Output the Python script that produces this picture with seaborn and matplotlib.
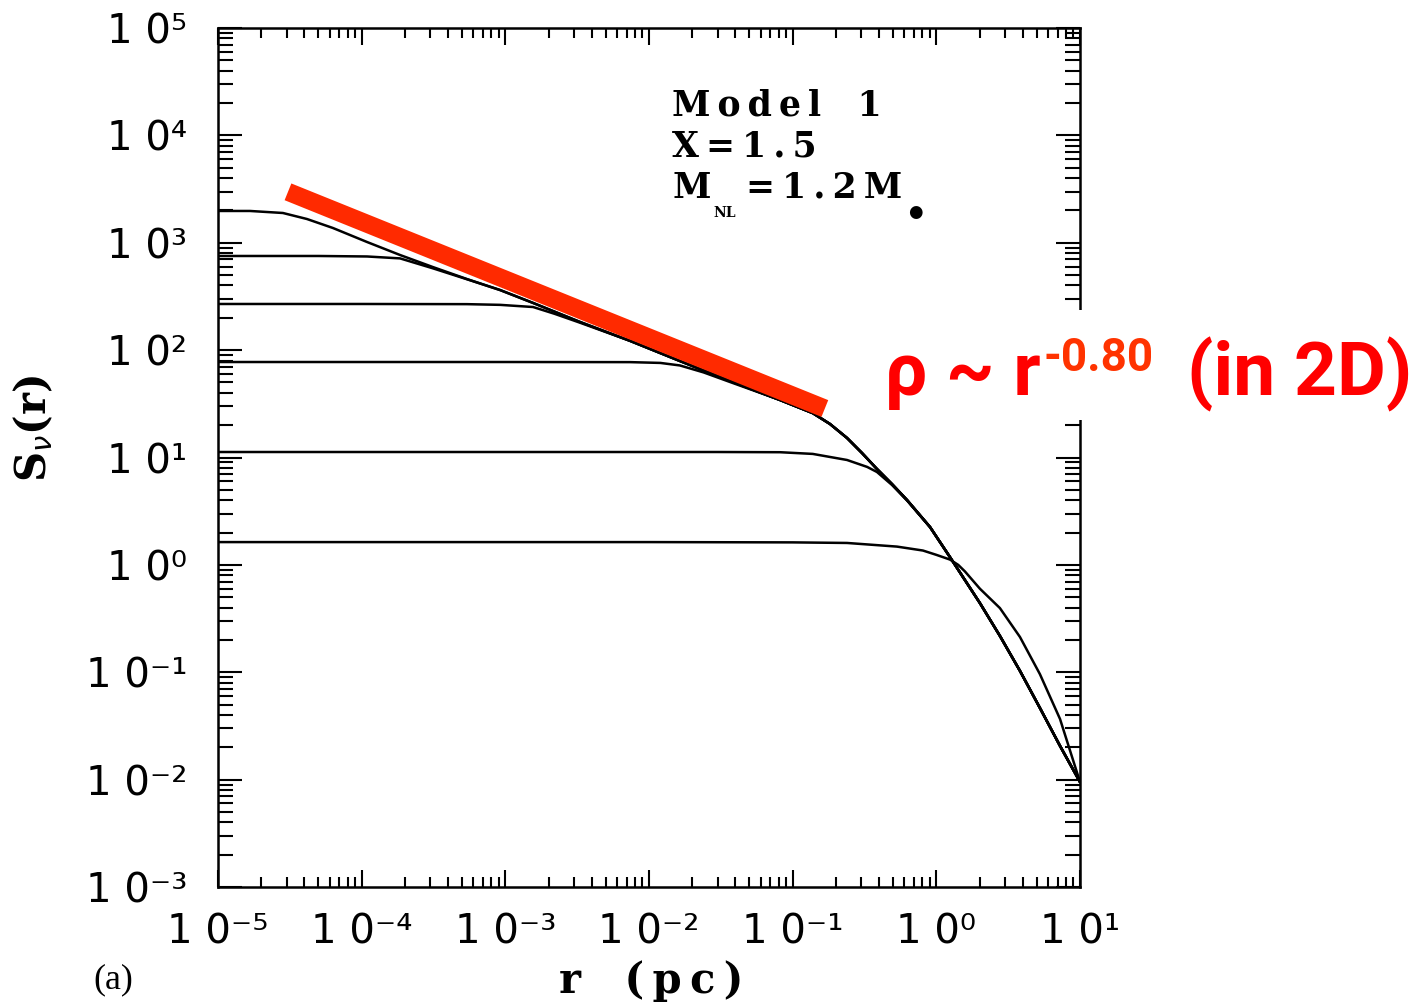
import numpy as np
import pandas as pd
import matplotlib
matplotlib.use("Agg")
import matplotlib.pyplot as plt
import seaborn as sns
from matplotlib.ticker import LogLocator, NullFormatter
from matplotlib.patches import Rectangle

sns.set_style("ticks")
plt.rcParams["font.family"] = ["DejaVu Sans"]
plt.rcParams["text.color"] = "black"

# ---------------- data ----------------
curve_a_r = [1.00e-5, 1.67e-5, 2.83e-5, 4.16e-5, 6.31e-5, 1.09e-4, 1.85e-4, 3.13e-4,
             5.41e-4, 9.18e-4, 1.56e-3, 3.31e-3, 7.38e-3, 1.64e-2, 3.66e-2, 8.17e-2,
             0.138, 0.182, 0.239, 0.304, 0.386, 0.491, 0.625, 0.904, 1.245, 1.58,
             2.01, 2.77, 3.82, 5.26, 7.26, 10.0]
curve_a_s = [1977, 1977, 1893, 1664, 1372, 1016, 769, 594,
             459, 363, 275, 183, 122, 79.2, 51.6, 34.3,
             25.9, 20.5, 15.2, 11.0, 7.82, 5.66, 4.02, 2.25, 1.18, 0.723,
             0.441, 0.218, 0.103, 0.0465, 0.0206, 0.0095]

curve_b_r = [1.00e-5, 5.0e-5, 1.09e-4, 1.85e-4, 3.13e-4, 5.41e-4, 9.18e-4, 1.56e-3,
             3.31e-3, 7.38e-3, 1.64e-2, 3.66e-2, 8.17e-2, 0.138, 0.182, 0.239, 0.304,
             0.386, 0.491, 0.625, 0.904, 1.245, 1.58, 2.01, 2.77, 3.82, 5.26, 7.26, 10.0]
curve_b_s = [753, 753, 745, 715, 578, 457, 363, 275,
             183, 122, 79.2, 51.6, 34.3, 25.9, 20.5, 15.2, 11.0,
             7.82, 5.66, 4.02, 2.25, 1.18, 0.723, 0.441, 0.218, 0.103, 0.0465, 0.0206, 0.0095]

curve_c_r = [1.00e-5, 1.0e-4, 5.4e-4, 9.2e-4, 1.56e-3, 2.2e-3, 3.31e-3, 7.38e-3,
             1.64e-2, 3.66e-2, 8.17e-2, 0.138, 0.182, 0.239, 0.304, 0.386, 0.491,
             0.625, 0.904, 1.245, 1.58, 2.01, 2.77, 3.82, 5.26, 7.26, 10.0]
curve_c_s = [269, 269, 268, 264, 252, 218, 180, 122,
             79.2, 51.6, 34.3, 25.9, 20.5, 15.2, 11.0, 7.82, 5.66,
             4.02, 2.25, 1.18, 0.723, 0.441, 0.218, 0.103, 0.0465, 0.0206, 0.0095]

curve_d_r = [1.00e-5, 1.0e-3, 7.4e-3, 1.2e-2, 1.64e-2, 2.4e-2, 3.66e-2, 8.17e-2,
             0.138, 0.182, 0.239, 0.304, 0.386, 0.491, 0.625, 0.904, 1.245, 1.58,
             2.01, 2.77, 3.82, 5.26, 7.26, 10.0]
curve_d_s = [77.5, 77.5, 77.3, 76.0, 72.0, 62.0, 50.5, 34.3,
             25.9, 20.5, 15.2, 11.0, 7.82, 5.66, 4.02, 2.25, 1.18, 0.723,
             0.441, 0.218, 0.103, 0.0465, 0.0206, 0.0095]

curve_e_r = [1.00e-5, 1.0e-3, 3.0e-2, 8.17e-2, 0.138, 0.239, 0.33, 0.386, 0.491,
             0.625, 0.904, 1.245, 1.58, 2.01, 2.77, 3.82, 5.26, 7.26, 10.0]
curve_e_s = [11.25, 11.25, 11.25, 11.2, 10.8, 9.48, 8.17, 7.33, 5.55,
             3.98, 2.25, 1.18, 0.723, 0.441, 0.218, 0.103, 0.0465, 0.0206, 0.0095]

curve_f_r = [1.00e-5, 1.0e-3, 1.0e-2, 0.1, 0.239, 0.532, 0.807, 1.0, 1.245, 1.42, 1.58,
             2.01, 2.77, 3.82, 5.26, 7.26, 10.0]
curve_f_s = [1.63, 1.63, 1.63, 1.62, 1.60, 1.48, 1.36, 1.24, 1.12, 1.0, 0.87,
             0.60, 0.396, 0.213, 0.096, 0.0367, 0.0095]

fit_r = [3.07e-5, 0.1675]
fit_s = [2980, 28.6]

x_ticks = [1e-5, 1e-4, 1e-3, 1e-2, 1e-1, 1e0, 1e1]
x_tick_labels = ["1 0\u207b\u2075", "1 0\u207b\u2074", "1 0\u207b\u00b3",
                 "1 0\u207b\u00b2", "1 0\u207b\u00b9", "1 0\u2070", "1 0\u00b9"]
y_ticks = [1e-3, 1e-2, 1e-1, 1e0, 1e1, 1e2, 1e3, 1e4, 1e5]
y_tick_labels = ["1 0\u207b\u00b3", "1 0\u207b\u00b2", "1 0\u207b\u00b9",
                 "1 0\u2070", "1 0\u00b9", "1 0\u00b2", "1 0\u00b3",
                 "1 0\u2074", "1 0\u2075"]

# ---------------- build table ----------------
curves = [("A", curve_a_r, curve_a_s), ("B", curve_b_r, curve_b_s),
          ("C", curve_c_r, curve_c_s), ("D", curve_d_r, curve_d_s),
          ("E", curve_e_r, curve_e_s), ("F", curve_f_r, curve_f_s)]
df = pd.concat([pd.DataFrame({"r": r, "S": s, "curve": n}) for n, r, s in curves],
               ignore_index=True)

W, H = 1422, 1006
fig = plt.figure(figsize=(W / 100, H / 100), dpi=100)
ax = fig.add_axes([218 / W, 1 - 887 / H, (1080 - 218) / W, (887 - 28) / H])
ax.set_xscale("log")
ax.set_yscale("log")

sns.lineplot(data=df, x="r", y="S", units="curve", estimator=None, sort=False,
             color="black", lw=1.8, ax=ax, legend=False)
ax.plot(fit_r, fit_s, color="#ff2a00", lw=13, solid_capstyle="butt", zorder=3)

ax.set_xlim(1e-5, 1e1)
ax.set_ylim(1e-3, 1e5)
ax.set_xticks(x_ticks, x_tick_labels)
ax.set_yticks(y_ticks, y_tick_labels)
ax.xaxis.set_minor_locator(LogLocator(base=10, subs=np.arange(2, 10), numticks=100))
ax.yaxis.set_minor_locator(LogLocator(base=10, subs=np.arange(2, 10), numticks=100))
ax.xaxis.set_minor_formatter(NullFormatter())
ax.yaxis.set_minor_formatter(NullFormatter())
ax.set_xlabel("")
ax.set_ylabel("")

ax.tick_params(which="both", direction="in", top=True, right=True, width=1.5,
               color="black", labelcolor="black")
ax.tick_params(axis="y", which="major", length=17, pad=22, labelsize=29)
ax.tick_params(axis="y", which="minor", length=11)
ax.tick_params(axis="x", which="major", length=12, pad=18, labelsize=29)
ax.tick_params(axis="x", which="minor", length=7)
for sp in ax.spines.values():
    sp.set_linewidth(1.8)
    sp.set_color("black")

serif = "DejaVu Serif"
ts = "\u2009"  # thin space used as letter spacing
def spaced(s):
    return ts.join(list(s))

# axis labels
fig.text(651 / W, 1 - 993 / H, spaced("r") + "   " + spaced("(pc)"), ha="center",
         va="baseline", fontsize=30, fontweight="bold", family=serif)
fig.text(33 / W, 1 - 428 / H, r"S$_{\nu}$(r)", ha="center", va="center", rotation=90,
         fontsize=30, fontweight="bold", family=serif)
fig.text(93 / W, 1 - 988 / H, "(a)", ha="left", va="baseline", fontsize=26,
         family="Liberation Serif")

# model annotation
fs = 25
fig.text(672 / W, 1 - 115 / H, spaced("Model") + "   " + "1", ha="left", va="baseline",
         fontsize=fs, fontweight="bold", family=serif)
fig.text(672 / W, 1 - 157 / H, spaced("X=1.5"), ha="left", va="baseline", fontsize=fs,
         fontweight="bold", family=serif)
fig.text(672 / W, 1 - 198 / H, "M", ha="left", va="baseline", fontsize=fs,
         fontweight="bold", family=serif)
fig.text(713 / W, 1 - 217 / H, "NL", ha="left", va="baseline", fontsize=10,
         fontweight="bold", family=serif)
fig.text(746 / W, 1 - 198 / H, spaced("=1.2M"), ha="left", va="baseline", fontsize=fs,
         fontweight="bold", family=serif)
fig.text(915 / W, 1 - 212 / H, "\u25cf", ha="center", va="center", fontsize=12,
         family="DejaVu Sans")

# red annotation with white background
rect = Rectangle((870 / W, 1 - 420 / H), (W - 870) / W, 110 / H, transform=fig.transFigure,
                 facecolor="white", edgecolor="none", zorder=5)
fig.add_artist(rect)
red_font = ["Roboto", "DejaVu Sans"]
fig.text(885 / W, 1 - 395 / H, "\u03c1 ~ r", ha="left", va="baseline", fontsize=54,
         fontweight="bold", family=red_font, color="#ff0000", zorder=6)
fig.text(1044 / W, 1 - 371 / H, "-0.80", ha="left", va="baseline", fontsize=33,
         fontweight="bold", family=red_font, color="#ff3300", zorder=6)
fig.text(1187 / W, 1 - 395 / H, "(in 2D)", ha="left", va="baseline", fontsize=54,
         fontweight="bold", family=red_font, color="#ff0000", zorder=6)

fig.savefig("out.png", dpi=100, facecolor="white")
